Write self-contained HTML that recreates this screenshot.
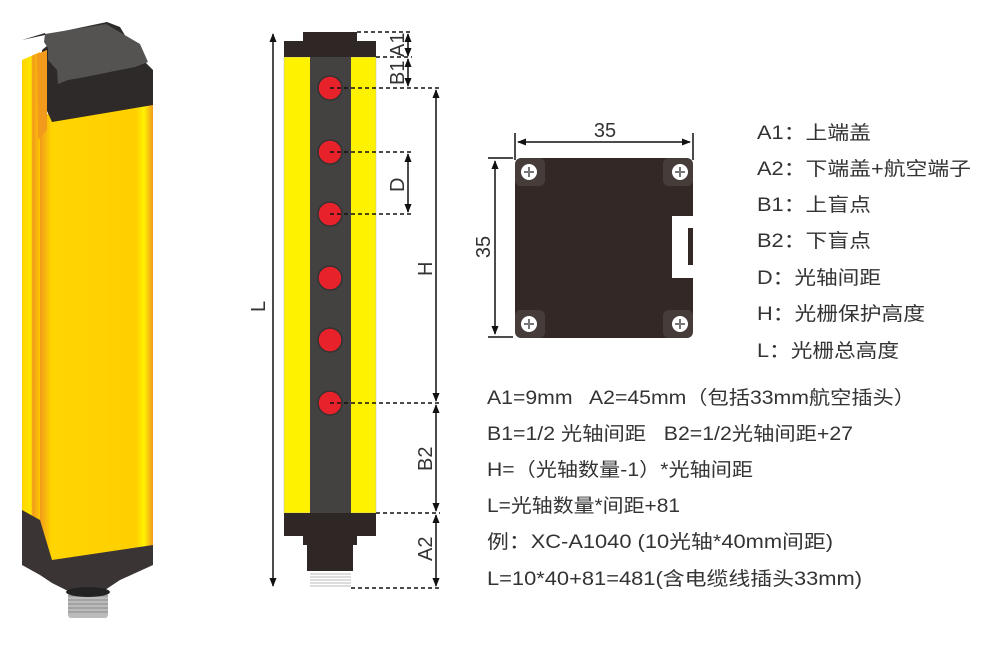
<!DOCTYPE html>
<html><head><meta charset="utf-8"><style>
body{margin:0;background:#fff;}
svg{display:block;}
text{font-family:"Liberation Sans","Noto Sans CJK SC",sans-serif;fill:#333;}
</style></head><body>
<svg width="1000" height="645" viewBox="0 0 1000 645" xmlns="http://www.w3.org/2000/svg">
<defs>
<linearGradient id="yf" x1="0" x2="1" y1="0" y2="0">
<stop offset="0" stop-color="#f29a1c"/><stop offset="0.1" stop-color="#ffd400"/><stop offset="0.85" stop-color="#ffd000"/><stop offset="0.92" stop-color="#fff200"/><stop offset="1" stop-color="#f29a1c"/>
</linearGradient>
<linearGradient id="ys" x1="0" x2="1" y1="0" y2="0">
<stop offset="0" stop-color="#ffd400"/><stop offset="0.5" stop-color="#ffe600"/><stop offset="0.6" stop-color="#f29a1c"/><stop offset="1" stop-color="#ffc800"/>
</linearGradient>
<marker id="ar" viewBox="0 0 10 10" refX="9" refY="5" markerWidth="6" markerHeight="6" orient="auto-start-reverse"><path d="M0,1 L10,5 L0,9 Z" fill="#111"/></marker>
</defs>

<!-- 3D product -->
<polygon points="22,60 40,52 40,560 22,548" fill="url(#ys)"/>
<polygon points="40,115 153,100 153,548 50,565 40,560" fill="url(#yf)"/>
<polygon points="22,40 45,33 48,45 42,50 42,100 52,122 153,105 153,70 135,52 120,27 107,22 45,35" fill="#2e2a29"/>
<polygon points="45,34 106,24 140,44 148,62 135,67 80,78 68,80 58,84 57,70 48,60 48,48 44,42" fill="#555352"/>
<polygon points="37,54 47,50 47,130 38,140" fill="#f29a1c"/>
<polygon points="22,510 40,520 52,560 153,545 153,565 120,580 105,590 70,592 52,583 40,575 22,565" fill="#3a3534"/>
<rect x="68" y="592" width="40" height="26" rx="3" fill="#bbb"/>
<g stroke="#777" stroke-width="0.8"><line x1="68" y1="596" x2="108" y2="596"/><line x1="68" y1="600" x2="108" y2="600"/><line x1="68" y1="604" x2="108" y2="604"/><line x1="68" y1="608" x2="108" y2="608"/><line x1="68" y1="612" x2="108" y2="612"/></g>
<ellipse cx="88" cy="592" rx="22" ry="5" fill="#222"/>

<!-- center diagram -->
<rect x="284" y="57" width="92" height="456" fill="#fff200" stroke="#bbb" stroke-width="0.5"/>
<rect x="310" y="57" width="41" height="456" fill="#444141"/>
<rect x="303" y="32" width="54" height="12" fill="#2e2725"/>
<rect x="284" y="41" width="92" height="16" fill="#2e2725"/>
<rect x="284" y="513" width="92" height="23" fill="#2e2725"/>
<rect x="303" y="535" width="54" height="10" fill="#2e2725"/>
<rect x="307" y="544" width="46" height="27" fill="#2e2725"/>
<g stroke="#bbb" stroke-width="1"><line x1="310" y1="574" x2="351" y2="574"/><line x1="310" y1="577" x2="351" y2="577"/><line x1="310" y1="580" x2="351" y2="580"/><line x1="310" y1="583" x2="351" y2="583"/><line x1="310" y1="586" x2="351" y2="586"/></g>
<g fill="#e8222b" stroke="#333" stroke-width="1.5">
<circle cx="330" cy="88" r="12"/><circle cx="330" cy="152" r="12"/><circle cx="330" cy="214" r="12"/><circle cx="330" cy="278" r="12"/><circle cx="330" cy="340" r="12"/><circle cx="330" cy="403" r="12"/>
</g>
<g stroke="#111" stroke-width="1.5" stroke-dasharray="4,3" fill="none">
<line x1="357" y1="32" x2="412" y2="32"/>
<line x1="376" y1="57" x2="412" y2="57"/>
<line x1="330" y1="88" x2="440" y2="88"/>
<line x1="330" y1="152" x2="412" y2="152"/>
<line x1="330" y1="214" x2="412" y2="214"/>
<line x1="330" y1="403" x2="440" y2="403"/>
<line x1="376" y1="513" x2="440" y2="513"/>
<line x1="351" y1="588" x2="440" y2="588"/>
</g>
<g stroke="#111" stroke-width="1.5" marker-start="url(#ar)" marker-end="url(#ar)">
<line x1="273" y1="34" x2="273" y2="586"/>
<line x1="408" y1="34" x2="408" y2="56"/>
<line x1="408" y1="59" x2="408" y2="86"/>
<line x1="408" y1="154" x2="408" y2="212"/>
<line x1="436" y1="90" x2="436" y2="401"/>
<line x1="436" y1="405" x2="436" y2="511"/>
<line x1="436" y1="515" x2="436" y2="586"/>
</g>
<g font-size="20">
<text transform="translate(404,57) rotate(-90)">A1</text>
<text transform="translate(404,85) rotate(-90)">B1</text>
<text transform="translate(404,192) rotate(-90)">D</text>
<text transform="translate(432,276) rotate(-90)">H</text>
<text transform="translate(265,312) rotate(-90)">L</text>
<text transform="translate(432,471) rotate(-90)">B2</text>
<text transform="translate(432,561) rotate(-90)">A2</text>
</g>

<!-- square -->
<rect x="515" y="158" width="178" height="180" rx="9" fill="#332826"/>
<g fill="#463d3b"><rect x="515" y="158" width="30" height="28" rx="6"/><rect x="663" y="158" width="30" height="28" rx="6"/><rect x="515" y="310" width="30" height="28" rx="6"/><rect x="663" y="310" width="30" height="28" rx="6"/></g>
<path d="M693,216 L672,216 L672,278 L693,278 L693,265 L688,265 L688,228 L693,228 Z" fill="#fff"/>
<g>
<circle cx="529" cy="172" r="8" fill="#fff"/><circle cx="680" cy="172" r="8" fill="#fff"/><circle cx="529" cy="324" r="8" fill="#fff"/><circle cx="680" cy="324" r="8" fill="#fff"/>
<g stroke="#777" stroke-width="2"><path d="M524,172h10M529,167v10M675,172h10M680,167v10M524,324h10M529,319v10M675,324h10M680,319v10"/></g>
</g>
<g stroke="#111" stroke-width="1.5">
<line x1="515" y1="133" x2="515" y2="160"/><line x1="693" y1="133" x2="693" y2="160"/>
<line x1="488" y1="158" x2="513" y2="158"/><line x1="488" y1="337" x2="513" y2="337"/>
<line x1="518" y1="142" x2="690" y2="142" marker-start="url(#ar)" marker-end="url(#ar)"/>
<line x1="495" y1="161" x2="495" y2="334" marker-start="url(#ar)" marker-end="url(#ar)"/>
</g>
<text x="605" y="137" font-size="20" text-anchor="middle">35</text>
<text transform="translate(490,247) rotate(-90)" font-size="20" text-anchor="middle">35</text>

<!-- legend -->
<g font-size="19" lengthAdjust="spacingAndGlyphs">
<text x="757" y="139" textLength="114" lengthAdjust="spacingAndGlyphs">A1：上端盖</text>
<text x="757" y="175" textLength="214" lengthAdjust="spacingAndGlyphs">A2：下端盖+航空端子</text>
<text x="757" y="211" textLength="114" lengthAdjust="spacingAndGlyphs">B1：上盲点</text>
<text x="757" y="247" textLength="114" lengthAdjust="spacingAndGlyphs">B2：下盲点</text>
<text x="757" y="284" textLength="124" lengthAdjust="spacingAndGlyphs">D：光轴间距</text>
<text x="757" y="320" textLength="168" lengthAdjust="spacingAndGlyphs">H：光栅保护高度</text>
<text x="757" y="357" textLength="142" lengthAdjust="spacingAndGlyphs">L：光栅总高度</text>
<text x="487" y="404" textLength="428" lengthAdjust="spacingAndGlyphs" xml:space="preserve">A1=9mm   A2=45mm（包括33mm航空插头）</text>
<text x="487" y="440" textLength="366" lengthAdjust="spacingAndGlyphs" xml:space="preserve">B1=1/2 光轴间距   B2=1/2光轴间距+27</text>
<text x="487" y="476" textLength="266" lengthAdjust="spacingAndGlyphs">H=（光轴数量-1）*光轴间距</text>
<text x="487" y="512" textLength="193" lengthAdjust="spacingAndGlyphs">L=光轴数量*间距+81</text>
<text x="487" y="548" textLength="346" lengthAdjust="spacingAndGlyphs">例：XC-A1040 (10光轴*40mm间距)</text>
<text x="487" y="585" textLength="375" lengthAdjust="spacingAndGlyphs">L=10*40+81=481(含电缆线插头33mm)</text>
</g>
</svg>
</body></html>
